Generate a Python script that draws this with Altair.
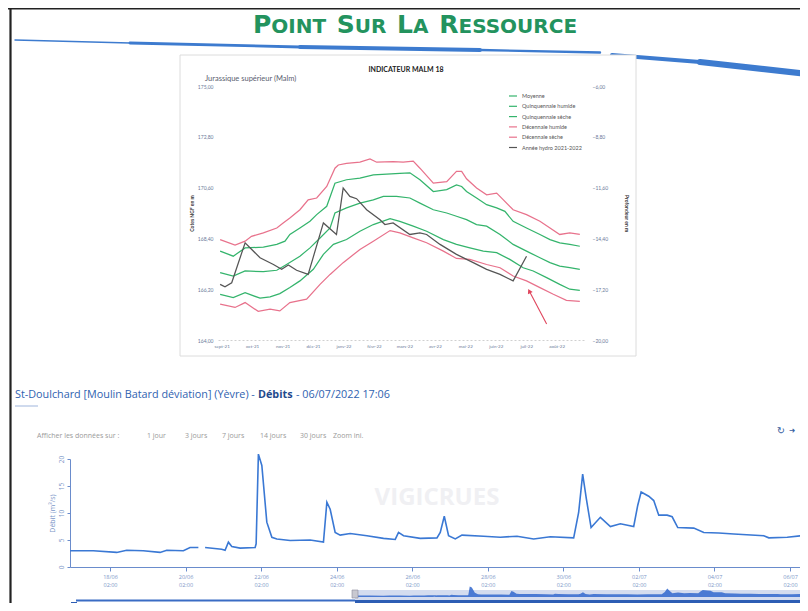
import altair as alt
import pandas as pd

W, H = 792, 595

# ---------------- upper inset chart : INDICATEUR MALM 18 ----------------
month_labels = ["sept-21", "oct-21", "nov-21", "déc-21", "janv-22", "févr-22",
                "mars-22", "avr-22", "mai-22", "juin-22", "juil-22", "août-22"]
series_names = ["Moyenne", "Quinquennale humide", "Quinquennale sèche",
                "Décennale humide", "Décennale sèche", "Année hydro 2021-2022"]
series_colors = ["#34b46c", "#34b46c", "#34b46c", "#e8728c", "#e8728c", "#555555"]

moy_m = [-0.05, 0.38, 0.77, 1.37, 1.81, 2.13, 2.57, 2.90, 3.23, 3.56, 3.72, 4.10, 4.54, 4.98, 5.31, 5.74,
         6.18, 6.51, 6.95, 7.39, 7.71, 8.04, 8.37, 8.70, 9.14, 9.57, 10.01, 10.45, 10.78, 11.10, 11.43, 11.76]
moy_v = [166.92, 166.77, 166.99, 166.96, 167.02, 167.27, 167.63, 167.99, 168.42, 168.85, 169.50, 169.72,
         169.93, 170.07, 170.22, 170.22, 170.15, 169.93, 169.64, 169.50, 169.36, 169.21, 169.00, 168.93,
         168.57, 168.14, 167.85, 167.56, 167.35, 167.20, 167.13, 167.06]

qh_m = [-0.05, 0.38, 0.77, 1.37, 1.81, 2.08, 2.24, 2.57, 2.90, 3.12, 3.45, 3.72, 4.10, 4.54, 4.98, 5.42,
        5.85, 6.18, 6.51, 6.95, 7.39, 7.71, 7.88, 8.04, 8.37, 8.70, 9.03, 9.30, 9.57, 10.01, 10.45, 10.78,
        11.10, 11.43, 11.76]
qh_v = [167.85, 167.63, 167.99, 168.02, 168.14, 168.28, 168.57, 168.85, 169.14, 169.43, 169.79, 170.79,
        170.94, 171.01, 171.15, 171.18, 171.22, 171.24, 170.94, 170.43, 170.51, 170.72, 170.65, 170.43,
        170.15, 169.86, 169.72, 169.57, 169.14, 168.85, 168.57, 168.35, 168.21, 168.14, 168.06]

qs_m = [-0.05, 0.38, 0.77, 1.26, 1.59, 1.91, 2.24, 2.57, 3.01, 3.34, 3.67, 4.10, 4.54, 4.98, 5.53, 5.85,
        6.29, 6.73, 7.28, 7.71, 8.15, 8.59, 9.03, 9.46, 9.90, 10.23, 10.67, 11.10, 11.43, 11.76]
qs_v = [165.98, 165.84, 166.05, 165.81, 165.87, 166.01, 166.27, 166.56, 167.06, 167.71, 168.14, 168.35,
        168.71, 169.00, 169.26, 169.14, 168.93, 168.71, 168.35, 168.14, 167.99, 167.85, 167.78, 167.49,
        167.13, 166.99, 166.70, 166.41, 166.20, 166.15]

dh_m = [-0.05, 0.44, 0.77, 0.98, 1.37, 1.81, 2.02, 2.24, 2.57, 2.84, 3.12, 3.45, 3.72, 3.83, 4.10, 4.54,
        4.87, 5.09, 5.63, 5.96, 6.29, 6.51, 6.95, 7.39, 7.71, 7.88, 8.04, 8.37, 8.70, 9.03, 9.25, 9.57,
        10.01, 10.45, 10.78, 11.10, 11.43, 11.76]
dh_v = [168.35, 168.11, 168.28, 168.49, 168.64, 168.85, 169.07, 169.28, 169.64, 170.07, 170.15, 170.65,
        171.44, 171.58, 171.65, 171.70, 171.84, 171.70, 171.73, 171.70, 171.75, 171.44, 170.79, 170.86,
        171.30, 171.30, 170.98, 170.58, 170.29, 170.36, 170.07, 169.64, 169.43, 169.14, 168.85, 168.57,
        168.64, 168.57]

ds_m = [-0.05, 0.44, 0.77, 1.20, 1.59, 1.91, 2.24, 2.79, 3.23, 3.56, 3.99, 4.54, 4.98, 5.53, 5.85, 6.29,
        6.73, 7.28, 7.71, 8.15, 8.70, 9.14, 9.57, 10.01, 10.45, 10.89, 11.32, 11.76]
ds_v = [165.55, 165.41, 165.62, 165.24, 165.34, 165.26, 165.62, 165.77, 166.41, 166.84, 167.35, 167.92,
        168.28, 168.74, 168.64, 168.42, 168.21, 167.85, 167.53, 167.49, 167.27, 167.13, 166.77, 166.56,
        166.27, 165.98, 165.72, 165.67]

an_m = [-0.05, 0.11, 0.33, 0.77, 1.26, 1.70, 1.97, 2.19, 2.46, 2.84, 3.34, 3.77, 3.99, 4.21, 4.43, 4.76,
        5.20, 5.36, 5.63, 6.18, 6.51, 6.73, 7.17, 7.71, 8.26, 8.70, 9.14, 9.57, 10.01]
an_v = [166.41, 166.30, 166.48, 168.21, 167.56, 167.27, 167.06, 167.25, 167.02, 166.84, 169.07, 168.57,
        170.58, 170.22, 170.12, 169.64, 169.21, 169.00, 169.07, 168.57, 168.64, 168.57, 168.14, 167.71,
        167.35, 167.06, 166.84, 166.56, 167.63]

left_ticks = [164.0, 166.2, 168.4, 170.6, 172.8, 175.0]
right_ticks = [-20.0, -17.2, -14.4, -11.6, -8.8, -6.0]

arrow_m = [10.67, 10.10]
arrow_v = [164.69, 166.12]

# ---------------- lower chart : débits St-Doulchard ----------------
hydro_time = [
    "2022-06-17T00:34", "2022-06-17T15:24", "2022-06-18T06:15", "2022-06-18T12:36", "2022-06-18T23:10",
    "2022-06-19T09:48", "2022-06-19T14:03", "2022-06-20T00:36", "2022-06-20T04:51", "2022-06-20T10:08",
    "2022-06-20T14:24", "2022-06-21T00:56", "2022-06-21T03:06", "2022-06-21T05:13", "2022-06-21T07:22",
    "2022-06-21T12:39", "2022-06-21T22:11", "2022-06-21T22:50", "2022-06-22T00:16", "2022-06-22T02:27",
    "2022-06-22T05:37", "2022-06-22T08:49", "2022-06-22T11:59", "2022-06-22T20:26", "2022-06-23T09:09",
    "2022-06-23T17:36", "2022-06-23T19:46", "2022-06-23T21:52", "2022-06-24T01:02", "2022-06-24T04:13",
    "2022-06-24T10:35", "2022-06-24T21:12", "2022-06-25T07:46", "2022-06-25T15:12", "2022-06-25T17:17",
    "2022-06-25T20:29", "2022-06-26T07:05", "2022-06-26T17:42", "2022-06-26T19:48", "2022-06-26T22:21",
    "2022-06-27T01:05", "2022-06-27T05:20", "2022-06-27T09:35", "2022-06-27T23:20", "2022-06-28T09:57",
    "2022-06-28T20:33", "2022-06-29T07:07", "2022-06-29T17:44", "2022-06-30T08:33", "2022-06-30T11:43",
    "2022-06-30T14:16", "2022-06-30T16:37", "2022-06-30T19:37", "2022-07-01T01:31", "2022-07-01T07:53",
    "2022-07-01T14:14", "2022-07-01T22:41", "2022-07-02T01:14", "2022-07-02T03:24", "2022-07-02T08:14",
    "2022-07-02T11:25", "2022-07-02T14:36", "2022-07-02T19:56", "2022-07-02T23:07", "2022-07-03T02:40",
    "2022-07-03T12:51", "2022-07-03T19:12", "2022-07-04T04:44", "2022-07-04T14:17", "2022-07-05T09:20",
    "2022-07-05T12:32", "2022-07-06T00:13", "2022-07-06T12:56"]
hydro_flow = [
    3.0, 3.0, 2.7, 3.1, 3.0, 2.7, 3.1, 3.0, 3.6, 3.6,
    3.6, 3.3, 3.1, 4.6, 3.8, 3.5, 3.6, 4.3, 20.9, 18.8,
    8.3, 5.5, 5.2, 4.9, 5.0, 4.6, 12.0, 10.7, 6.4, 5.9,
    6.2, 5.8, 5.3, 5.1, 6.4, 5.8, 5.3, 5.4, 6.4, 9.4,
    5.8, 5.2, 5.9, 5.7, 5.5, 5.7, 5.2, 5.6, 5.4, 10.1,
    17.2, 12.6, 7.3, 9.2, 7.5, 8.0, 7.5, 11.4, 13.9, 13.1,
    12.3, 9.6, 9.6, 9.3, 7.3, 7.2, 6.4, 6.3, 6.1, 5.8,
    5.4, 5.5, 5.9]
hydro_segment = [1] * 10 + [2] * (len(hydro_flow) - 10)
hydro_tick_days = [(6, 18), (6, 20), (6, 22), (6, 24), (6, 26), (6, 28), (6, 30), (7, 2), (7, 4), (7, 6)]
flow_ticks = [0, 5, 10, 15, 20]

# ---------------- tables ----------------
rows = []
for name, ms, vs in zip(series_names, [moy_m, qh_m, qs_m, dh_m, ds_m, an_m],
                        [moy_v, qh_v, qs_v, dh_v, ds_v, an_v]):
    for m, v in zip(ms, vs):
        rows.append({"serie": name, "mois": m, "cote": v})
inset_df = pd.DataFrame(rows)
arrow_df = pd.DataFrame({"mois": arrow_m, "cote": arrow_v})
depth_df = pd.DataFrame({"prof": right_ticks})
hydro_df = pd.DataFrame({"t": hydro_time, "q": hydro_flow, "seg": hydro_segment})

# ---------------- scales ----------------
inset_x = alt.Scale(domain=[-0.12, 11.92], range=[210.0, 576.7], nice=False, zero=False)
inset_y = alt.Scale(domain=[164, 175], range=[332, 78], nice=False, zero=False)
depth_y = alt.Scale(domain=[-20, -6], range=[332, 78], nice=False, zero=False)
t0 = alt.DateTime(year=2022, month=6, date=17, hours=0, minutes=35)
t1 = alt.DateTime(year=2022, month=7, date=6, hours=17, minutes=6)
hydro_x = alt.Scale(domain=[t0, t1], range=[62, 805.8], nice=False)
hydro_y = alt.Scale(domain=[0, 20], range=[559, 451], nice=False, zero=False)
nav_x = alt.Scale(domain=[t0, t1], range=[347, 800], nice=False)
nav_y = alt.Scale(domain=[0, 20], range=[589, 579], nice=False, zero=False)

ONE = alt.Data(values=[{}])


def txt(s, x, y, size, color, weight="normal", font="Open Sans", align="left",
        baseline="middle", angle=0, opacity=1.0):
    return alt.Chart(ONE).mark_text(
        text=s, fontSize=size, color=color, fontWeight=weight, font=font, align=align,
        baseline=baseline, angle=angle, opacity=opacity
    ).encode(x=alt.value(x), y=alt.value(y))


def rule(x1, y1, x2, y2, color, width, cap="round", opacity=1.0):
    return alt.Chart(ONE).mark_rule(color=color, strokeWidth=width, strokeCap=cap, opacity=opacity).encode(
        x=alt.value(x1), y=alt.value(y1), x2=alt.value(x2), y2=alt.value(y2))


def box(x1, y1, x2, y2, fill, stroke="#ffffff", sw=0.0):
    return alt.Chart(ONE).mark_rect(fill=fill, stroke=stroke, strokeWidth=sw).encode(
        x=alt.value(x1), y=alt.value(y1), x2=alt.value(x2), y2=alt.value(y2))


layers = []

# slide frame
layers.append(rule(0, 0.8, W, 0.8, "#222222", 1.6, cap="butt"))
layers.append(rule(2.5, 0, 2.5, H, "#222222", 2.2, cap="butt"))

# blue swoosh
SW = "#3d7bcf"
layers += [
    rule(7, 32, 122, 35, SW, 1.4),
    rule(122, 35, 292, 39, SW, 2.8),
    rule(292, 39, 472, 42, SW, 3.8),
    rule(472, 42, 592, 44.5, SW, 2.4),
    rule(604, 47, 692, 54, SW, 4.0),
    rule(692, 54, 800, 66, SW, 6.0),
]

# title (small caps)
G = "#23935e"
for s, x, big in [("P", 245, True), ("OINT", 263.3, False), ("S", 328.8, True), ("UR", 346.8, False),
                  ("L", 389.1, True), ("A", 405, False), ("R", 431.2, True), ("ESSOURCE", 450.5, False)]:
    layers.append(txt(s, x, 25, 25 if big else 20, G, weight="bold", baseline="alphabetic",
                      font="DejaVu Sans"))

# inset frame
layers.append(box(172, 47, 628, 348, "#ffffff", "#dcdcdc", 1.0))
layers.append(txt("INDICATEUR MALM 18", 398, 62, 7, "#222222", weight="bold", font="Lato", align="center"))
layers.append(txt("Jurassique supérieur (Malm)", 197, 71, 7.5, "#5a6070", font="Lato"))

decimal_expr = "replace(format(datum.value, '.2f'), '.', ',')"
month_expr = "[" + ",".join("'" + m + "'" for m in month_labels) + "][datum.value]"

inset_lines = alt.Chart(inset_df).mark_line(strokeWidth=1.25).encode(
    x=alt.X("mois:Q", scale=inset_x,
            axis=alt.Axis(orient="bottom", offset=-263, values=list(range(12)), labelExpr=month_expr,
                          grid=False, ticks=False, domainColor="#d0d0d0", domainDash=[2, 2],
                          labelFontSize=4.5, labelColor="#6b7a99", labelFont="Lato", labelPadding=3,
                          title=None, zindex=1)),
    y=alt.Y("cote:Q", scale=inset_y,
            axis=alt.Axis(orient="left", offset=-210, values=left_ticks, labelExpr=decimal_expr,
                          grid=False, ticks=False, domain=False, labelFontSize=5, labelColor="#6b7a99",
                          labelFont="Lato", labelPadding=5, title="Cotes NGF en m", titleFontSize=5,
                          titleFont="Lato", titleColor="#333333", titlePadding=3, titleFontWeight="bold",
                          zindex=1)),
    color=alt.Color("serie:N", scale=alt.Scale(domain=series_names, range=series_colors),
                    legend=alt.Legend(orient="none", legendX=500, legendY=83, title=None,
                                      symbolType="stroke", symbolSize=64, symbolStrokeWidth=1.2,
                                      labelFontSize=5.5, labelFont="Lato", labelColor="#555555",
                                      rowPadding=1.3, labelOffset=4, padding=0)),
    detail="serie:N",
)
layers.append(inset_lines)

depth_axis = alt.Chart(depth_df).mark_point(opacity=0).encode(
    y=alt.Y("prof:Q", scale=depth_y,
            axis=alt.Axis(orient="right", offset=-212, values=right_ticks, labelExpr=decimal_expr,
                          grid=False, ticks=False, domain=False, labelFontSize=5, labelColor="#6b7a99",
                          labelFont="Lato", labelPadding=4, title="Profondeur en m", titleFontSize=5,
                          titleFont="Lato", titleColor="#333333", titlePadding=16,
                          titleFontWeight="bold", zindex=1)))
layers.append(depth_axis)

arrow_line = alt.Chart(arrow_df).mark_line(color="#e0455c", strokeWidth=1.1).encode(
    x=alt.X("mois:Q", scale=inset_x, axis=None), y=alt.Y("cote:Q", scale=inset_y, axis=None))
arrow_head = alt.Chart(arrow_df.tail(1)).mark_point(
    shape="triangle-up", filled=True, color="#e0455c", size=28, angle=333, opacity=1).encode(
    x=alt.X("mois:Q", scale=inset_x, axis=None), y=alt.Y("cote:Q", scale=inset_y, axis=None))
layers += [arrow_line, arrow_head]

# ---------------- lower part texts ----------------
B = "#2f62b0"
layers.append(txt("St-Doulchard [Moulin Batard déviation] (Yèvre) -", 7, 387, 10.8, B))
layers.append(txt("Débits", 250, 387, 10.8, "#1f4a8c", weight="bold"))
layers.append(txt("- 06/07/2022 17:06", 288, 387, 10.8, B))
layers.append(rule(7, 398, 30, 398, "#9fb5dc", 1.0, cap="butt"))

GR = "#9a9a9a"
for s, x in [("Afficher les données sur :", 29), ("1 jour", 139), ("3 jours", 177), ("7 jours", 214),
             ("14 jours", 252), ("30 jours", 292), ("Zoom ini.", 325)]:
    layers.append(txt(s, x, 428, 7, GR))
layers.append(txt("↻", 773, 423, 10, "#3a5f9f", font="DejaVu Sans", align="center"))
layers.append(txt("➜", 781, 423, 7.5, "#3a5f9f", font="DejaVu Sans"))

layers.append(txt("VIGICRUES", 429, 490, 24, "#f0f0f3", weight="bold", align="center"))

# hydrograph
AX = "#6a8ccc"
tick_vals = [alt.DateTime(year=2022, month=mo, date=d, hours=2, minutes=0) for mo, d in hydro_tick_days]
hydro_line = alt.Chart(hydro_df).mark_line(color="#3a78d4", strokeWidth=1.6).encode(
    x=alt.X("t:T", scale=hydro_x,
            axis=alt.Axis(orient="bottom", offset=-36, values=tick_vals,
                          labelExpr="[timeFormat(datum.value, '%d/%m'), timeFormat(datum.value, '%H:%M')]",
                          grid=False, tickSize=4, tickColor=AX, domainColor=AX, labelFontSize=5.5,
                          labelColor="#7b96c8", labelPadding=3, labelLineHeight=8, title=None,
                          labelFont="Open Sans")),
    y=alt.Y("q:Q", scale=hydro_y,
            axis=alt.Axis(orient="left", offset=-62, values=flow_ticks, grid=False, tickSize=3,
                          tickColor=AX, domainColor=AX, labelAngle=270, labelFontSize=6.5,
                          labelColor="#7b96c8", labelPadding=3, title="Débit (m³/s)", titleFontSize=7,
                          titleColor="#7b96c8", titleFontWeight="normal", titlePadding=3,
                          labelFont="Open Sans", titleFont="Open Sans")),
    detail="seg:N",
)
layers.append(hydro_line)

# navigator
layers.append(box(347, 582, 800, 592, "#d4dcef"))
layers.append(box(347, 592, 800, 603, "#2d5db4"))
layers.append(rule(68, 592.5, 347, 592.5, "#3a6cc4", 2.0, cap="butt"))
layers.append(box(63, 594, 69, 603, "#2d5db4"))
nav_area = alt.Chart(hydro_df).mark_area(color="#3c6fcf", opacity=0.9, line=False).encode(
    x=alt.X("t:T", scale=nav_x, axis=None),
    y=alt.Y("q:Q", scale=nav_y, axis=None),
    y2=alt.value(592),
    detail="seg:N",
)
layers.append(nav_area)
layers.append(box(344, 582, 350, 590, "#c8c8d0", "#8a8a9a", 0.6))

chart = alt.layer(*layers).resolve_scale(
    x="independent", y="independent", color="independent"
).properties(
    width=W, height=H, padding=0, autosize=alt.AutoSizeParams(type="none")
).configure_view(stroke=None)

chart.save("out.html", embed_options={"renderer": "svg", "actions": False})
